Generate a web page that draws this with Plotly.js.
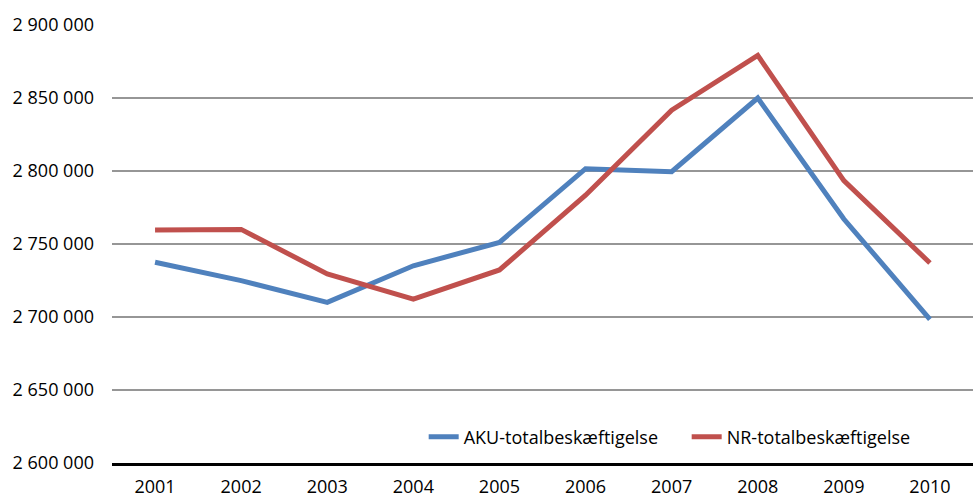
<!DOCTYPE html>
<html>
<head>
<meta charset="utf-8">
<script src="https://cdn.plot.ly/plotly-3.0.1.min.js"></script>
<style>html,body{margin:0;padding:0;background:#fff;}#chart{width:973px;height:500px;}</style>
</head>
<body>
<div id="chart"></div>
<script>
const years = ['2001','2002','2003','2004','2005','2006','2007','2008','2009','2010'];
const akuName = 'AKU-totalbeskæftigelse';
const nrName = 'NR-totalbeskæftigelse';
const aku = [2737500, 2724900, 2710000, 2735100, 2751100, 2801600, 2799500, 2850000, 2767100, 2698400];
const nr  = [2759600, 2760000, 2729500, 2712300, 2732200, 2783400, 2841600, 2879200, 2793400, 2737000];
const yTicks = [2600000, 2650000, 2700000, 2750000, 2800000, 2850000, 2900000];
const yTickText = ['2 600 000','2 650 000','2 700 000','2 750 000','2 800 000','2 850 000','2 900 000'];

const FONT = '"Open Sans", "Noto Sans", sans-serif';

const data = [
  {x: years, y: aku, name: akuName, type: 'scatter', mode: 'lines',
   line: {color: '#4f81bd', width: 5}},
  {x: years, y: nr, name: nrName, type: 'scatter', mode: 'lines',
   line: {color: '#c0504d', width: 5}}
];

const layout = {
  width: 973, height: 500,
  margin: {l: 112, r: 0, t: 25, b: 37},
  paper_bgcolor: '#fff', plot_bgcolor: '#fff',
  font: {family: FONT, size: 18, color: '#000'},
  showlegend: true,
  legend: {orientation: 'h', x: 0.362, xanchor: 'left', y: 0.059, yanchor: 'middle',
           bgcolor: 'rgba(0,0,0,0)', font: {family: FONT, size: 18, color: '#000'},
           entrywidth: 218, entrywidthmode: 'pixels', tracegroupgap: 0},
  xaxis: {type: 'category', range: [-0.5, 9.5], showgrid: false, zeroline: false,
          showline: true, linecolor: '#000', linewidth: 3, ticks: '',
          ticklabelstandoff: 5, tickfont: {family: FONT, size: 18, color: '#000'}},
  yaxis: {range: [2600000, 2900000], tickvals: yTicks, ticktext: yTickText,
          showgrid: true, gridcolor: '#969696', gridwidth: 1.5, zeroline: false,
          showline: false, ticks: '', ticklabelstandoff: 17,
          tickfont: {family: FONT, size: 18, color: '#000'}}
};

Plotly.newPlot('chart', data, layout, {displayModeBar: false, staticPlot: true});
</script>
</body>
</html>
